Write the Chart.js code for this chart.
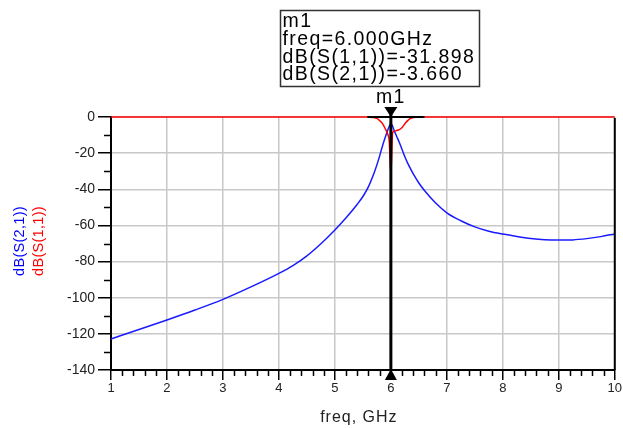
<!DOCTYPE html>
<html>
<head>
<meta charset="utf-8">
<script src="https://cdn.jsdelivr.net/npm/chart.js@4.4.0/dist/chart.umd.min.js"></script>
<style>
    html, body { margin: 0; padding: 0; background: #fff; }
    #wrap { width: 623px; height: 428px; position: relative; }
</style>
</head>
<body>
<div id="wrap"><canvas id="sparams"></canvas></div>
<script>
// Frequency sweep (GHz), denser around the resonance
const freq = [1, 1.5, 2, 2.5, 3, 3.5, 4, 4.25, 4.5, 4.75, 5, 5.2, 5.4, 5.5, 5.6, 5.7, 5.75, 5.8, 5.85, 5.9, 5.95, 5.97,
              6, 6.03, 6.05, 6.1, 6.15, 6.2, 6.25, 6.3, 6.35, 6.4, 6.5, 6.6, 6.8, 7, 7.25, 7.5, 7.75, 8, 8.25, 8.5, 8.75,
              9, 9.25, 9.5, 9.75, 10];

// dB(S(2,1)) - blue trace
const s21 = [-122.8, -117.6, -112.3, -106.8, -100.9, -94.0, -86.5, -82.2, -76.8, -70.1, -62.5, -55.8, -48.3, -44.0, -38.5, -31.0, -26.5,
             -21.5, -16.0, -11.2, -6.8, -5.3, -3.66, -5.0, -6.8, -10.5, -14.0, -18.0, -22.0, -25.5, -28.6, -31.5, -36.5,
             -40.7, -47.6, -53.0, -57.4, -60.8, -63.2, -64.8, -66.1, -67.2, -67.9, -68.1, -68.0, -67.3, -66.2, -64.7];

// dB(S(1,1)) - red trace
const s11 = [0, 0, 0, 0, 0, 0, 0, 0, 0, 0, 0, 0, 0, 0, -0.05, -0.3, -0.8, -2.0, -3.7, -6.5, -10.0, -13.0,
             -31.898, -9.0, -8.0, -7.5, -7.0, -5.8, -3.8, -2.0, -0.8, -0.3, 0, 0, 0, 0, 0, 0, 0, 0, 0, 0, 0,
             0, 0, 0, 0, 0];

// marker m1
const markerName = 'm1';
const markerFreq = 6.0;
const markerS11 = -31.898;
const markerS21 = -3.660;
const markerSpan = [5.58, 6.6];

const FONT = '"Liberation Sans", Arial, Helvetica, sans-serif';

const toPoints = (xs, ys) => xs.map((v, i) => ({ x: v, y: ys[i] }));

// small ticks between the labelled ones, and the right frame edge
const minorTicks = {
    id: 'minorTicks',
    afterDraw(chart) {
        const { ctx, chartArea, scales: { x, y } } = chart;
        ctx.save();
        ctx.strokeStyle = '#000';
        ctx.lineWidth = 1.5;
        ctx.beginPath();
        for (let i = 1; i < 45; i++) {
            if (i % 5 === 0) continue;
            const px = Math.round(x.getPixelForValue(1 + i * 0.2)) + 0.5;
            ctx.moveTo(px, chartArea.bottom);
            ctx.lineTo(px, chartArea.bottom + 6);
        }
        for (let v = -130; v < 0; v += 20) {
            const py = Math.round(y.getPixelForValue(v)) + 0.5;
            ctx.moveTo(chartArea.left - 7, py);
            ctx.lineTo(chartArea.left, py);
        }
        ctx.stroke();

        ctx.lineWidth = 2;
        ctx.beginPath();
        ctx.moveTo(chartArea.right, chartArea.top + 1);
        ctx.lineTo(chartArea.right, chartArea.bottom);
        ctx.stroke();
        ctx.restore();
    }
};

// two-coloured y title and the x title
const axisTitles = {
    id: 'axisTitles',
    afterDraw(chart) {
        const { ctx, chartArea } = chart;
        ctx.save();
        ctx.letterSpacing = '0.3px';
        ctx.font = '14.5px ' + FONT;
        ctx.textAlign = 'center';
        ctx.textBaseline = 'middle';
        const cy = 241;
        ctx.save();
        ctx.translate(20, cy);
        ctx.rotate(-Math.PI / 2);
        ctx.fillStyle = '#0000ff';
        ctx.fillText('dB(S(2,1))', 0, 0);
        ctx.restore();
        ctx.save();
        ctx.translate(38.5, cy);
        ctx.rotate(-Math.PI / 2);
        ctx.fillStyle = '#ff0000';
        ctx.fillText('dB(S(1,1))', 0, 0);
        ctx.restore();

        ctx.letterSpacing = '1px';
        ctx.font = '16px ' + FONT;
        ctx.fillStyle = '#222';
        ctx.textBaseline = 'alphabetic';
        ctx.fillText('freq, GHz', (chartArea.left + chartArea.right) / 2 - 4, 422);
        ctx.restore();
    }
};

// marker line, triangles and readout box
const markerReadout = {
    id: 'markerReadout',
    afterDatasetsDraw(chart) {
        const { ctx, chartArea, scales: { x } } = chart;
        const px = x.getPixelForValue(markerFreq);
        ctx.save();
        ctx.strokeStyle = '#000';
        ctx.fillStyle = '#000';
        ctx.lineWidth = 3;
        ctx.beginPath();
        ctx.moveTo(px, chartArea.top - 8);
        ctx.lineTo(px, chartArea.bottom);
        ctx.stroke();

        ctx.beginPath();
        ctx.moveTo(px - 6.5, chartArea.top - 10);
        ctx.lineTo(px + 6.5, chartArea.top - 10);
        ctx.lineTo(px, chartArea.top);
        ctx.closePath();
        ctx.fill();

        ctx.beginPath();
        ctx.moveTo(px, chartArea.bottom - 1);
        ctx.lineTo(px - 6, chartArea.bottom + 10);
        ctx.lineTo(px + 6, chartArea.bottom + 10);
        ctx.closePath();
        ctx.fill();

        ctx.letterSpacing = '1.4px';
        ctx.font = '19.5px ' + FONT;
        ctx.textAlign = 'center';
        ctx.textBaseline = 'alphabetic';
        ctx.fillText(markerName, px, 103);

        const bx = Math.round(px - 111) + 0.5;
        ctx.fillStyle = '#fff';
        ctx.fillRect(bx, 10.5, 199, 76);
        ctx.strokeStyle = '#333';
        ctx.lineWidth = 1.5;
        ctx.strokeRect(bx, 10.5, 199, 76);

        ctx.fillStyle = '#000';
        ctx.textAlign = 'left';
        const lines = [
            markerName,
            'freq=' + markerFreq.toFixed(3) + 'GHz',
            'dB(S(1,1))=' + markerS11.toFixed(3),
            'dB(S(2,1))=' + markerS21.toFixed(3)
        ];
        const base = [26.5, 44.5, 62.5, 80];
        lines.forEach((t, i) => ctx.fillText(t, bx + 2, base[i]));
        ctx.restore();
    }
};

const ctx = document.getElementById('sparams').getContext('2d');
new Chart(ctx, {
    type: 'line',
    data: {
        datasets: [
            {
                label: 'm1 span',
                data: markerSpan.map(v => ({ x: v, y: 0 })),
                borderColor: '#000',
                borderWidth: 2,
                pointRadius: 0,
                clip: false
            },
            {
                label: 'dB(S(1,1))',
                data: toPoints(freq, s11),
                borderColor: '#ff0000',
                borderWidth: 1.5,
                pointRadius: 0,
                cubicInterpolationMode: 'monotone',
                clip: false
            },
            {
                label: 'dB(S(2,1))',
                data: toPoints(freq, s21),
                borderColor: '#1a1aff',
                borderWidth: 1.5,
                pointRadius: 0,
                cubicInterpolationMode: 'monotone',
                clip: false
            }
        ]
    },
    options: {
        responsive: true,
        maintainAspectRatio: false,
        animation: false,
        layout: {
            padding: { left: 0, right: 6, top: 117, bottom: 0 }
        },
        plugins: {
            legend: { display: false },
            tooltip: { enabled: false }
        },
        scales: {
            x: {
                type: 'linear',
                min: 1,
                max: 10,
                afterFit: (scale) => { scale.height = 58; },
                grid: {
                    color: '#c8c8c8',
                    lineWidth: 1.5,
                    tickColor: '#000',
                    tickLength: 10,
                    tickWidth: 1.5
                },
                border: { color: '#000', width: 2 },
                ticks: {
                    stepSize: 1,
                    autoSkip: false,
                    maxRotation: 0,
                    padding: 1,
                    color: '#222',
                    font: { family: FONT, size: 13 }
                }
            },
            y: {
                min: -140,
                max: 0,
                afterFit: (scale) => { scale.width = 111; },
                grid: {
                    color: '#c8c8c8',
                    lineWidth: 1.5,
                    tickColor: '#000',
                    tickLength: 13,
                    tickWidth: 1.5
                },
                border: { color: '#000', width: 2 },
                ticks: {
                    stepSize: 20,
                    padding: 3,
                    color: '#222',
                    font: { family: FONT, size: 14 }
                }
            }
        }
    },
    plugins: [minorTicks, axisTitles, markerReadout]
});
</script>
</body>
</html>
